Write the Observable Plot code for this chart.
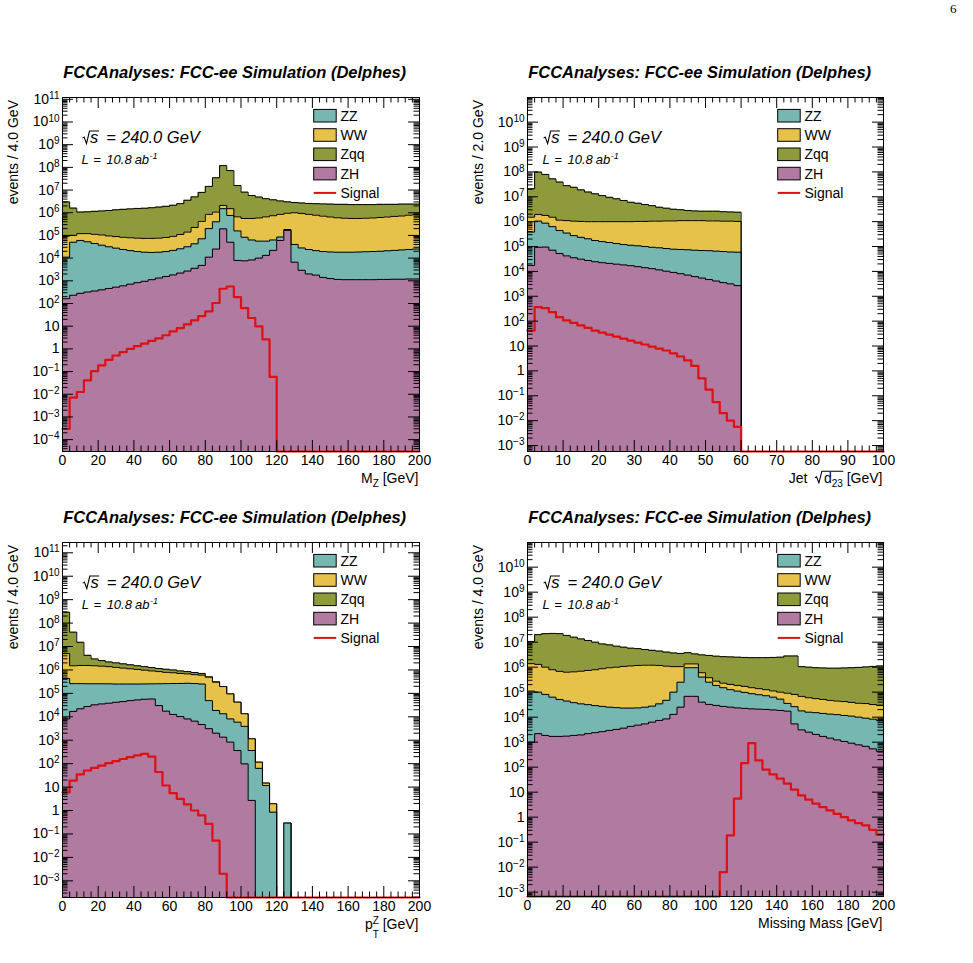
<!DOCTYPE html>
<html>
<head>
<meta charset="utf-8">
<script src="https://cdn.jsdelivr.net/npm/d3@7"></script>
<script src="https://cdn.jsdelivr.net/npm/@observablehq/plot@0.6"></script>
<style>
html,body{margin:0;padding:0;background:#fff;}
#page{position:relative;width:973px;height:963px;overflow:hidden;background:#fff;}
#page svg.panel{position:absolute;overflow:visible;}
#overlay{position:absolute;left:0;top:0;pointer-events:none;white-space:pre;}
</style>
</head>
<body>
<div id="page"></div>
<script>
// ---------------- labels / categories ----------------
const titleText = "FCCAnalyses: FCC-ee Simulation (Delphes)";
const legendLabels = ["ZZ", "WW", "Zqq", "ZH", "Signal"];
const stackOrder = ["Zqq", "WW", "ZZ", "ZH"]; // drawn back to front (THStack cumulative)
const COLORS = {ZZ: "#76b7b2", WW: "#e6c24b", Zqq: "#8e9a3b", ZH: "#b07aa1", Signal: "#dd1111"};

// ---------------- tick labels ----------------
const mzXTicks  = [0, 20, 40, 60, 80, 100, 120, 140, 160, 180, 200];
const jetXTicks = [0, 10, 20, 30, 40, 50, 60, 70, 80, 90, 100];
const ptXTicks  = [0, 20, 40, 60, 80, 100, 120, 140, 160, 180, 200];
const mmXTicks  = [0, 20, 40, 60, 80, 100, 120, 140, 160, 180, 200];
const mzYTicks  = [1e-4, 1e-3, 1e-2, 1e-1, 1, 10, 1e2, 1e3, 1e4, 1e5, 1e6, 1e7, 1e8, 1e9, 1e10, 1e11];
const jetYTicks = [1e-3, 1e-2, 1e-1, 1, 10, 1e2, 1e3, 1e4, 1e5, 1e6, 1e7, 1e8, 1e9, 1e10];
const ptYTicks  = [1e-3, 1e-2, 1e-1, 1, 10, 1e2, 1e3, 1e4, 1e5, 1e6, 1e7, 1e8, 1e9, 1e10, 1e11];
const mmYTicks  = [1e-3, 1e-2, 1e-1, 1, 10, 1e2, 1e3, 1e4, 1e5, 1e6, 1e7, 1e8, 1e9, 1e10];
const mzYDomain  = [3.0e-5, 1.2e11];
const jetYDomain = [5.75e-4, 9.8e10];
const ptYDomain  = [1.94e-4, 2.75e11];
const mmYDomain  = [6.7e-4, 9.7e10];

// ---------------- data: cumulative stack heights per bin (50 bins each) ----------------
// (a) M_Z, 0-200 GeV, 4 GeV bins
const mz_Zqq = [3.0e6,1.6e6,1.07e6,1.1e6,1.15e6,1.2e6,1.26e6,1.35e6,1.41e6,1.48e6,
  1.55e6,1.58e6,1.66e6,1.78e6,1.91e6,2.14e6,2.51e6,3.55e6,5.0e6,7.9e6,
  1.45e7,3.47e7,1.2e8,7.2e7,1.58e7,8.1e6,5.75e6,4.9e6,4.17e6,3.72e6,
  3.31e6,3.02e6,2.82e6,2.69e6,2.57e6,2.51e6,2.45e6,2.4e6,2.34e6,2.34e6,
  2.29e6,2.29e6,2.29e6,2.29e6,2.34e6,2.34e6,2.34e6,2.4e6,2.4e6,2.4e6];
const mz_WW = [9.3e4,1.0e5,1.2e5,1.2e5,1.12e5,1.05e5,9.5e4,8.9e4,8.3e4,7.9e4,
  7.6e4,7.4e4,7.4e4,7.6e4,8.1e4,9.1e4,1.1e5,1.41e5,2.24e5,4.17e5,
  8.5e5,1.07e6,2.09e6,1.51e6,6.6e5,5.6e5,5.6e5,5.9e5,6.6e5,7.4e5,
  8.5e5,9.5e5,1.0e6,9.3e5,8.5e5,7.8e5,7.1e5,6.5e5,6.0e5,5.75e5,
  5.6e5,5.6e5,5.75e5,5.9e5,6.2e5,6.5e5,6.9e5,7.2e5,7.8e5,8.3e5];
const mz_ZZ = [1.1e4,5.0e4,6.0e4,5.25e4,4.4e4,3.7e4,3.16e4,2.75e4,2.4e4,2.14e4,
  1.95e4,1.82e4,1.78e4,1.82e4,1.95e4,2.19e4,2.57e4,3.16e4,4.27e4,7.1e4,
  2.0e5,4.0e5,1.51e6,7.6e5,1.58e5,8.3e4,6.3e4,5.6e4,5.6e4,6.3e4,
  8.5e4,1.82e5,4.0e4,2.8e4,2.4e4,2.14e4,1.95e4,1.86e4,1.82e4,1.82e4,
  1.82e4,1.86e4,1.91e4,1.95e4,2.0e4,2.1e4,2.19e4,2.29e4,2.4e4,2.51e4];
const mz_ZH = [162,230,280,320,355,400,460,525,600,710,
  830,950,1120,1320,1550,1820,2190,2690,3550,4790,
  1.1e4,2.5e4,1.95e5,5.0e4,7900,7600,8300,1.0e4,1.32e4,2.19e4,
  6.0e4,1.66e5,6600,2900,2000,1780,1410,1260,1150,1120,
  1120,1120,1120,1120,1150,1150,1170,1170,1200,1200];
const mz_Signal = [3.0e-4,7.1e-3,1.26e-2,4.1e-2,0.105,0.186,0.33,0.51,0.72,1.0,
  1.32,1.7,2.24,2.88,3.98,5.9,8.3,12,18,28,
  45,105,447,562,191,63,23,9.8,2.6,0.058,
  0,0,0,0,0,0,0,0,0,0,
  0,0,0,0,0,0,0,0,0,0];

// (b) Jet sqrt(d23), 0-100 GeV, 2 GeV bins
const jet_Zqq = [2.1e7,9.8e7,7.9e7,5.25e7,3.9e7,2.8e7,2.4e7,1.9e7,1.55e7,1.32e7,
  1.12e7,9.5e6,8.3e6,7.1e6,6.0e6,5.5e6,4.9e6,4.4e6,3.8e6,3.47e6,
  3.16e6,3.02e6,2.82e6,2.69e6,2.63e6,2.63e6,2.63e6,2.51e6,2.45e6,2.4e6,
  0,0,0,0,0,0,0,0,0,0,
  0,0,0,0,0,0,0,0,0,0];
const jet_WW = [1.51e6,1.95e6,1.78e6,1.51e6,1.15e6,1.1e6,1.05e6,1.02e6,1.0e6,1.0e6,
  1.0e6,1.0e6,1.0e6,1.0e6,1.0e6,1.02e6,1.02e6,1.05e6,1.05e6,1.07e6,
  1.07e6,1.1e6,1.1e6,1.1e6,1.1e6,1.07e6,1.07e6,1.05e6,1.05e6,1.02e6,
  0,0,0,0,0,0,0,0,0,0,
  0,0,0,0,0,0,0,0,0,0];
const jet_ZZ = [3.8e5,1.05e6,8.7e5,6.3e5,4.4e5,3.47e5,2.75e5,2.34e5,2.04e5,1.74e5,
  1.58e5,1.45e5,1.32e5,1.2e5,1.12e5,1.07e5,1.0e5,9.3e4,8.9e4,8.3e4,
  7.8e4,7.6e4,7.4e4,7.1e4,6.9e4,6.8e4,6.5e4,6.3e4,6.0e4,5.9e4,
  0,0,0,0,0,0,0,0,0,0,
  0,0,0,0,0,0,0,0,0,0];
const jet_ZH = [1.74e4,9.3e4,9.5e4,7.1e4,5.25e4,4.2e4,3.55e4,3.1e4,2.75e4,2.45e4,
  2.24e4,2.1e4,1.95e4,1.82e4,1.7e4,1.55e4,1.41e4,1.29e4,1.15e4,1.02e4,
  9100,8100,7100,6200,5400,4700,4100,3550,3160,2690,
  0,0,0,0,0,0,0,0,0,0,
  0,0,0,0,0,0,0,0,0,0];
const jet_Signal = [41.7,363,331,229,145,107,85,68,54,41.7,
  34.7,28.8,24,20,16.6,13.8,11.5,9.5,7.9,6.6,
  5.1,3.8,2.63,1.58,0.5,0.178,0.056,0.02,0.01,0.0056,
  0,0,0,0,0,0,0,0,0,0,
  0,0,0,0,0,0,0,0,0,0];

// (c) pT^Z, 0-200 GeV, 4 GeV bins
const pt_Zqq = [2.9e8,4.1e7,1.51e7,4.2e6,2.95e6,2.51e6,2.19e6,2.0e6,1.82e6,1.66e6,
  1.51e6,1.38e6,1.26e6,1.15e6,1.07e6,1.0e6,9.1e5,8.5e5,7.8e5,7.1e5,
  5.1e5,3.16e5,1.95e5,9.5e4,4.2e4,1.35e4,1150,115,14.8,1.95,
  0,0.29,0,0,0,0,0,0,0,0,
  0,0,0,0,0,0,0,0,0,0];
const pt_WW = [5.0e6,1.51e6,1.55e6,1.55e6,1.51e6,1.45e6,1.38e6,1.29e6,1.2e6,1.12e6,
  1.05e6,9.8e5,9.1e5,8.5e5,7.9e5,7.6e5,7.1e5,6.8e5,6.3e5,6.0e5,
  4.9e5,3.0e5,1.95e5,9.5e4,4.2e4,1.35e4,1150,115,14.8,1.95,
  0,0.29,0,0,0,0,0,0,0,0,
  0,0,0,0,0,0,0,0,0,0];
const pt_ZZ = [4.3e5,2.6e5,2.6e5,2.57e5,2.57e5,2.57e5,2.55e5,2.5e5,2.5e5,2.5e5,
  2.5e5,2.52e5,2.55e5,2.57e5,2.6e5,2.63e5,2.65e5,2.69e5,2.63e5,2.5e5,
  4.9e4,1.86e4,1.35e4,8100,5900,3900,363,63,11.7,0.85,
  0,0.29,0,0,0,0,0,0,0,0,
  0,0,0,0,0,0,0,0,0,0];
const pt_ZH = [8100,1.7e4,2.19e4,2.75e4,3.24e4,3.55e4,3.8e4,4.17e4,4.47e4,4.9e4,
  5.25e4,5.6e4,5.75e4,3.02e4,1.74e4,1.26e4,1.02e4,8100,6500,4700,
  3100,2000,1350,830,363,98,2.7,0,0,0,
  0,0,0,0,0,0,0,0,0,0,
  0,0,0,0,0,0,0,0,0,0];
const pt_Signal = [6.0,19,35,51,66,83,105,129,158,191,
  224,263,200,44,11.7,5.5,3.16,1.82,1.0,0.62,
  0.27,0.052,0.002,0,0,0,0,0,0,0,
  0,0,0,0,0,0,0,0,0,0,
  0,0,0,0,0,0,0,0,0,0];

// (d) Missing mass, 0-200 GeV, 4 GeV bins
const mm_Zqq = [1.07e7,2.0e7,2.19e7,2.24e7,2.19e7,1.86e7,1.58e7,1.35e7,1.17e7,1.0e7,
  8.5e6,7.8e6,6.9e6,6.3e6,5.75e6,5.5e6,5.1e6,4.7e6,4.4e6,4.0e6,
  3.7e6,3.55e6,3.8e6,3.4e6,3.1e6,2.95e6,2.75e6,2.63e6,2.57e6,2.51e6,
  2.45e6,2.4e6,2.4e6,2.4e6,2.45e6,2.51e6,2.8e6,2.8e6,1.05e6,1.0e6,
  9.5e5,9.3e5,9.1e5,9.1e5,9.3e5,9.5e5,9.8e5,1.02e6,1.07e6,1.12e6];
const mm_WW = [1.38e6,1.29e6,1.0e6,7.9e5,6.8e5,6.3e5,6.5e5,6.9e5,7.4e5,7.9e5,
  8.7e5,9.5e5,1.0e6,1.07e6,1.12e6,1.17e6,1.2e6,1.2e6,1.17e6,1.1e6,
  1.05e6,1.05e6,1.35e6,1.35e6,6.0e5,3.8e5,2.75e5,2.29e5,2.04e5,1.86e5,
  1.7e5,1.51e5,1.38e5,1.26e5,1.12e5,1.0e5,9.1e4,8.1e4,6.8e4,6.0e4,
  5.5e4,5.1e4,4.7e4,4.4e4,4.2e4,3.9e4,3.6e4,3.5e4,3.2e4,2.95e4];
const mm_ZZ = [1.1e5,1.0e5,8.1e4,6.3e4,5.1e4,4.4e4,3.8e4,3.4e4,3.16e4,2.9e4,
  2.7e4,2.5e4,2.4e4,2.3e4,2.3e4,2.34e4,2.5e4,2.75e4,3.4e4,4.7e4,
  1.0e5,2.5e5,9.5e5,9.5e5,4.0e5,2.5e5,1.86e5,1.51e5,1.26e5,1.1e5,
  9.8e4,8.7e4,7.9e4,7.2e4,6.3e4,5.25e4,3.55e4,2.63e4,1.78e4,1.58e4,
  1.51e4,1.41e4,1.32e4,1.26e4,1.17e4,1.1e4,1.0e4,9100,8300,7400];
const mm_ZH = [1000,2190,1860,1700,1700,1740,1860,1950,2190,2400,
  2630,2950,3240,3630,4270,4790,5370,6310,7410,8510,
  1.29e4,2.51e4,6.8e4,6.8e4,3.98e4,3.24e4,2.95e4,2.69e4,2.51e4,2.34e4,
  2.24e4,2.14e4,2.09e4,2.04e4,1.95e4,1.86e4,1.74e4,5370,3090,2510,
  2040,1700,1450,1230,1070,910,780,680,540,430];
const mm_Signal = [0,0,0,0,0,0,0,0,0,0,
  0,0,0,0,0,0,0,0,0,0,
  0,0,0,0,0,0,0,0.0063,0.186,5.5,
  145,912,186,79,51,35,22,12.6,7.4,5.0,
  3.5,2.5,1.86,1.35,1.0,0.74,0.58,0.47,0.31,0.2];

// ---------------- panel layout ----------------
const FONT = '"Liberation Sans", Arial, Helvetica, sans-serif';
const panels = [
  {left: 0, top: 60, frame: {x0: 62, x1: 419, y0: 97, y1: 451}, xDomain: [0, 200], binW: 4, xTicks: mzXTicks, xMinorStep: 4,
   yDomain: mzYDomain, yTicks: mzYTicks, stacks: {Zqq: mz_Zqq, WW: mz_WW, ZZ: mz_ZZ, ZH: mz_ZH}, signal: mz_Signal,
   yTitle: "events / 4.0 GeV", xTitle: "mz", annotDx: 20.5},
  {left: 465, top: 60, frame: {x0: 527, x1: 883, y0: 97, y1: 451}, xDomain: [0, 100], binW: 2, xTicks: jetXTicks, xMinorStep: 2,
   yDomain: jetYDomain, yTicks: jetYTicks, stacks: {Zqq: jet_Zqq, WW: jet_WW, ZZ: jet_ZZ, ZH: jet_ZH}, signal: jet_Signal,
   yTitle: "events / 2.0 GeV", xTitle: "jet", annotDx: 16.6},
  {left: 0, top: 505, frame: {x0: 62, x1: 419, y0: 542, y1: 897}, xDomain: [0, 200], binW: 4, xTicks: ptXTicks, xMinorStep: 4,
   yDomain: ptYDomain, yTicks: ptYTicks, stacks: {Zqq: pt_Zqq, WW: pt_WW, ZZ: pt_ZZ, ZH: pt_ZH}, signal: pt_Signal,
   yTitle: "events / 4.0 GeV", xTitle: "pt", annotDx: 20.8},
  {left: 465, top: 505, frame: {x0: 527, x1: 883, y0: 542, y1: 896}, xDomain: [0, 200], binW: 4, xTicks: mmXTicks, xMinorStep: 4,
   yDomain: mmYDomain, yTicks: mmYTicks, stacks: {Zqq: mm_Zqq, WW: mm_WW, ZZ: mm_ZZ, ZH: mm_ZH}, signal: mm_Signal,
   yTitle: "events / 4.0 GeV", xTitle: "mm", annotDx: 16.6}
];

function histTable(values, x0, w, ymin) {
  const pts = values.map((v, i) => ({x: x0 + i * w, y: Math.max(v, ymin)}));
  pts.push({x: x0 + values.length * w, y: Math.max(values[values.length - 1], ymin)});
  return pts;
}
function logMinor(domain) {
  const out = [];
  const lo = Math.floor(Math.log10(domain[0])), hi = Math.ceil(Math.log10(domain[1]));
  for (let e = lo; e < hi; e++) for (let k = 2; k <= 9; k++) {
    const v = k * Math.pow(10, e);
    if (v >= domain[0] && v <= domain[1]) out.push(v);
  }
  return out;
}
function fmtPow(v) {
  const e = Math.round(Math.log10(v));
  if (e === 0) return "1";
  if (e === 1) return "10";
  return "10^" + (e < 0 ? "\u2212" + (-e) : String(e));
}

const page = document.getElementById("page");
const W = 450, H = 440, MAJ = 11, MIN = 5.5;

for (const p of panels) {
  const f = p.frame;
  const mL = f.x0 - p.left, mR = p.left + W - f.x1, mT = f.y0 - p.top, mB = p.top + H - f.y1;
  const fw = f.x1 - f.x0, fh = f.y1 - f.y0;
  const ymin = p.yDomain[0];
  const marks = [];
  for (const name of stackOrder) {
    const t = histTable(p.stacks[name], p.xDomain[0], p.binW, ymin);
    marks.push(Plot.areaY(t, {x: "x", y1: ymin, y2: "y", curve: "step-after", fill: COLORS[name]}));
    marks.push(Plot.line(t, {x: "x", y: "y", curve: "step-after", stroke: "black", strokeWidth: 1}));
  }
  marks.push(Plot.line(histTable(p.signal, p.xDomain[0], p.binW, ymin),
    {x: "x", y: "y", curve: "step-after", stroke: COLORS.Signal, strokeWidth: 2.2}));
  const xMinor = d3.range(p.xDomain[0], p.xDomain[1] + 1e-9, p.xMinorStep).filter(v => !p.xTicks.includes(v));
  const yMinor = logMinor(p.yDomain);
  marks.push(
    Plot.tickX(p.xTicks, {x: d => d, stroke: "black", insetTop: fh - MAJ}),
    Plot.tickX(p.xTicks, {x: d => d, stroke: "black", insetBottom: fh - MAJ}),
    Plot.tickX(xMinor, {x: d => d, stroke: "black", insetTop: fh - MIN}),
    Plot.tickX(xMinor, {x: d => d, stroke: "black", insetBottom: fh - MIN}),
    Plot.tickY(p.yTicks, {y: d => d, stroke: "black", insetRight: fw - MAJ}),
    Plot.tickY(p.yTicks, {y: d => d, stroke: "black", insetLeft: fw - MAJ}),
    Plot.tickY(yMinor, {y: d => d, stroke: "black", insetRight: fw - MIN}),
    Plot.tickY(yMinor, {y: d => d, stroke: "black", insetLeft: fw - MIN}),
    Plot.frame({stroke: "black", strokeWidth: 1}),
    Plot.axisX({ticks: p.xTicks, tickSize: 0, tickPadding: 4, tickFormat: d => String(d), label: null}),
    Plot.axisY({ticks: p.yTicks, tickSize: 0, tickPadding: 3, tickFormat: fmtPow, label: null})
  );
  const svg = Plot.plot({
    width: W, height: H,
    marginLeft: mL, marginRight: mR, marginTop: mT, marginBottom: mB,
    x: {domain: p.xDomain},
    y: {type: "log", domain: p.yDomain},
    style: {fontFamily: FONT, fontSize: "14px", color: "black", background: "transparent", overflow: "visible"},
    marks
  });
  svg.classList.add("panel");
  svg.style.left = p.left + "px";
  svg.style.top = p.top + "px";
  d3.select(svg).selectAll("text").each(function () {
    const m = (this.textContent || "").match(/^10\^(.+)$/);
    if (m) {
      this.textContent = "";
      d3.select(this).append("tspan").text("10");
      d3.select(this).append("tspan").attr("dy", "-0.48em").attr("font-size", "10px").text(m[1]);
    }
  });
  page.appendChild(svg);
}

// ---------------- overlay: titles, annotations, legends, axis titles ----------------
const ov = d3.select("#page").append("svg").attr("id", "overlay")
  .attr("width", 973).attr("height", 963).style("font-family", FONT);

function addRich(x, y, anchor, size, runs, extra = {}) {
  const t = ov.append("text").attr("x", x).attr("y", y).attr("text-anchor", anchor)
    .attr("font-size", size).attr("fill", "black");
  if (extra.style) t.attr("font-style", extra.style);
  if (extra.weight) t.attr("font-weight", extra.weight);
  if (extra.transform) t.attr("transform", extra.transform);
  runs.forEach(r => {
    const s = t.append("tspan").text(r.t);
    if (r.size) s.attr("font-size", r.size);
    if (r.dx != null) s.attr("dx", r.dx);
    if (r.dy != null) s.attr("dy", r.dy);
  });
  return t;
}
function radical(x, xEnd, by, h) {
  const pth = d3.path();
  pth.moveTo(x, by - h * 0.42);
  pth.lineTo(x + 1.6, by - h * 0.5);
  pth.lineTo(x + 4, by + 0.3);
  pth.lineTo(x + 7, by - h);
  pth.lineTo(xEnd, by - h);
  ov.append("path").attr("d", pth.toString()).attr("fill", "none")
    .attr("stroke", "black").attr("stroke-width", 1.1);
}

for (const p of panels) {
  const f = p.frame;
  // title
  addRich(f.x0 + 1.2, f.y0 - 19.5, "start", 16.5, [{t: titleText}], {weight: "bold", style: "italic"});
  // sqrt(s) annotation
  const ax = f.x0 + p.annotDx, aby = f.y0 + 46.3;
  const st = addRich(ax + 7.6, aby, "start", 16.5,
    [{t: "s"}, {t: "=", dx: 8}, {t: "240.0 GeV", dx: 5}], {style: "italic"});
  const sEnd = st.node().getEndPositionOfChar(0).x;
  radical(ax, sEnd + 0.5, aby, 12.3);
  // luminosity
  addRich(ax - 1, f.y0 + 67, "start", 13,
    [{t: "L"}, {t: "=", dx: 4.5}, {t: "10.8", dx: 5.5}, {t: "ab", dx: 3}, {t: "-1", size: 9, dx: 0.5, dy: -5}], {style: "italic"});
  // legend
  legendLabels.forEach((lab, i) => {
    const cy = f.y0 + 18.7 + 19.3 * i;
    const bx = f.x1 - 105.3;
    if (lab === "Signal") {
      ov.append("line").attr("x1", bx).attr("x2", bx + 22.5).attr("y1", cy).attr("y2", cy)
        .attr("stroke", COLORS.Signal).attr("stroke-width", 2);
    } else {
      ov.append("rect").attr("x", bx).attr("y", cy - 6.3).attr("width", 22.5).attr("height", 12.6)
        .attr("fill", COLORS[lab]).attr("stroke", "black").attr("stroke-width", 1);
    }
    addRich(f.x1 - 78.5, cy + 5, "start", 14, [{t: lab}]);
  });
  // y title
  addRich(0, 0, "end", 14, [{t: p.yTitle}], {transform: `translate(${f.x0 - 43.7},${f.y0 + 3}) rotate(-90)`});
  // x title
  const xr = f.x1 - 0.5, xb = f.y1 + 31.5;
  if (p.xTitle === "mz") {
    addRich(xr, xb, "end", 14, [{t: "M"}, {t: "Z", size: 10, dy: 4.5}, {t: " [GeV]", dy: -4.5}]);
  } else if (p.xTitle === "jet") {
    const t = addRich(xr, xb, "end", 14, [{t: "Jet"}, {t: "d", dx: 16.5}, {t: "23", size: 10, dy: 4}, {t: " [GeV]", dy: -4}]);
    const n = t.node();
    const xd = n.getStartPositionOfChar(3).x;
    const xe = n.getEndPositionOfChar(5).x;
    radical(xd - 9, xe + 0.5, xb, 11.3);
  } else if (p.xTitle === "pt") {
    addRich(xr, xb, "end", 14, [{t: "p"}, {t: "Z", size: 10, dy: -5}, {t: "T", size: 10, dx: -6.1, dy: 14}, {t: " [GeV]", dy: -9}]);
  } else {
    addRich(xr, xb, "end", 14, [{t: "Missing Mass [GeV]"}]);
  }
}
// page number
ov.append("text").attr("x", 950).attr("y", 12.5).attr("font-family", '"Liberation Serif", "DejaVu Serif", serif')
  .attr("font-size", 13).text("6");
</script>
</body>
</html>
